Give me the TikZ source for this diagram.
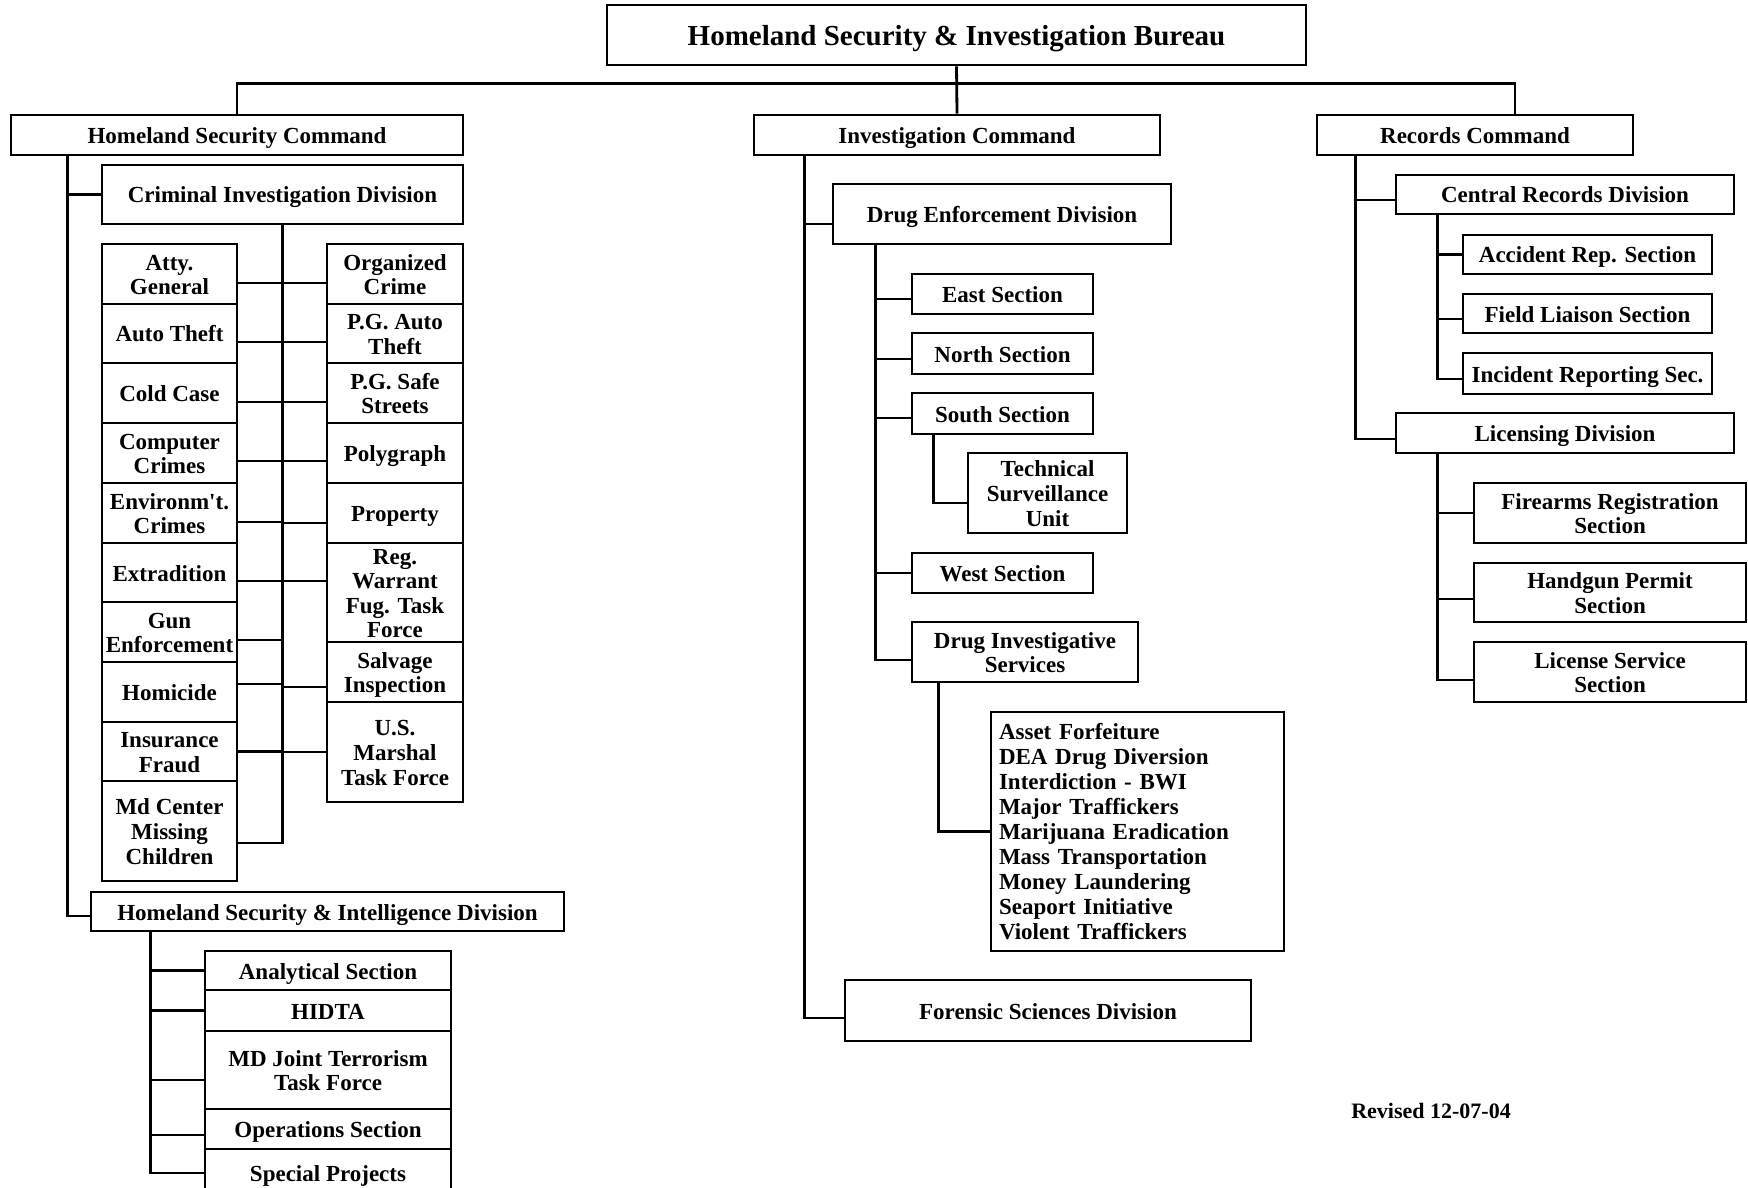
\documentclass[tikz,border=0pt]{standalone}
\usepackage{fontspec}
\setmainfont{Liberation Serif}
\usepackage{tikz}

\begin{document}
\begin{tikzpicture}[
    x=0.5pt, y=-0.5pt,
    frame/.style={draw, line width=1.4pt},
    box/.style={frame, inner xsep=1pt, inner ysep=0pt, align=center,
        font=\bfseries\fontsize{11.5}{12.3}\selectfont,
        text height=8.5pt, text depth=0pt},
    two/.style={text height=20.8pt},
    three/.style={text height=33.1pt},
    four/.style={text height=45.4pt},
    sz/.style 2 args={minimum width=#1pt, minimum height=#2pt},
    link/.style={line width=1.4pt},
]
\useasboundingbox (0,0) rectangle (1748,1187);

% Bureau and commands
\node[box, sz={349.5}{30}, font=\bfseries\fontsize{14.5}{16}\selectfont,
    text height=10.5pt] (top) at (956.5,35) {Homeland Security \& Investigation Bureau};
\node[box, sz={226}{20}] (hsc) at (237,135) {Homeland Security Command};
\node[box, sz={203}{20}] (ic) at (957,135) {Investigation Command};
\node[box, sz={158}{20}] (rc) at (1475,135) {Records Command};

\draw[link] (top.south) -- (ic.north);
\draw[link] (hsc.north) -- ++(0,-30) -| ([xshift=20pt]rc.north);

% Homeland Security Command
\node[box, sz={180.5}{29.5}] (cid) at (282.5,194.5) {Criminal Investigation Division};
\node[box, two, sz={67.5}{30}] (atty) at (169.5,274) {Atty.\\General};
\node[box, sz={67.5}{29.5}] (auto) at (169.5,333.5) {Auto Theft};
\node[box, sz={67.5}{30}] (cold) at (169.5,393) {Cold Case};
\node[box, two, sz={67.5}{30}] (comp) at (169.5,453) {Computer\\Crimes};
\node[box, two, sz={67.5}{30}] (env) at (169.5,513) {Environm\textquotesingle t.\\Crimes};
\node[box, sz={67.5}{29.5}] (extr) at (169.5,572.5) {Extradition};
\node[box, two, sz={67.5}{30}] (gun) at (169.5,632) {Gun\\Enforcement};
\node[box, sz={67.5}{30}] (homi) at (169.5,692) {Homicide};
\node[box, two, sz={67.5}{29.5}] (ins) at (169.5,751.5) {Insurance\\Fraud};
\node[box, three, sz={67.5}{50}] (mdc) at (169.5,831) {Md Center\\Missing\\Children};

\node[box, two, sz={68}{30}] (org) at (395,274) {Organized\\Crime};
\node[box, two, sz={68}{29.5}] (pgat) at (395,333.5) {P.G. Auto\\Theft};
\node[box, two, sz={68}{30}] (pgss) at (395,393) {P.G. Safe\\Streets};
\node[box, sz={68}{30}] (poly) at (395,453) {Polygraph};
\node[box, sz={68}{30}] (prop) at (395,513) {Property};
\node[box, four, sz={68}{49.5}] (reg) at (395,592.5) {Reg.\\Warrant\\Fug. Task\\Force};
\node[box, two, sz={68}{30}] (salv) at (395,672) {Salvage\\Inspection};
\node[box, three, sz={68}{50}] (usm) at (395,752) {U.S.\\Marshal\\Task Force};

\node[box, sz={236.5}{19.5}] (hsid) at (327.5,911.5) {Homeland Security \& Intelligence Division};
\node[box, sz={123}{19.5}] (anal) at (328,970.5) {Analytical Section};
\node[box, sz={123}{20.5}] (hidta) at (328,1010.5) {HIDTA};
\node[box, two, sz={123}{39}] (mdjt) at (328,1070) {MD Joint Terrorism\\Task Force};
\node[box, sz={123}{20}] (ops) at (328,1129) {Operations Section};
\node[box, sz={123}{24}] (spec) at (328,1173) {Special Projects};

\coordinate (hscdrop) at ([xshift=29pt]hsc.south west);
\draw[link] (cid.west) -| (hscdrop);
\draw[link] ([yshift=-2.25pt]hsid.west) -| (hscdrop);

\foreach \n/\off in {atty/-4.5, auto/-4.25, cold/-4.5, comp/-4, env/-4.5,
    extr/-4.25, gun/-4, homi/4, ins/0, mdc/-6}
  \draw[link] ([yshift=\off pt]\n.east) -| (cid.south);
\foreach \n/\off in {org/-4.5, pgat/-4.25, pgss/-4.5, poly/-4, prop/-5,
    reg/5.75, salv/-7.5, usm/0}
  \draw[link] ([yshift=\off pt]\n.west) -| (cid.south);

\coordinate (hsiddrop) at ([xshift=30.5pt]hsid.south west);
\foreach \n/\off in {anal/0, hidta/0, mdjt/-5, ops/-3, spec/0}
  \draw[link] ([yshift=\off pt]\n.west) -| (hsiddrop);

% Investigation Command
\node[box, sz={169}{30}] (ded) at (1002,214) {Drug Enforcement Division};
\node[box, sz={90.5}{20}] (east) at (1002.5,294) {East Section};
\node[box, sz={90.5}{20.5}] (north) at (1002.5,353.5) {North Section};
\node[box, sz={90.5}{20.5}] (south) at (1002.5,413.5) {South Section};
\node[box, three, sz={79.5}{40}] (tech) at (1047.5,493) {Technical\\Surveillance\\Unit};
\node[box, sz={90.5}{20}] (west) at (1002.5,573) {West Section};
\node[box, two, sz={113}{30}] (dis) at (1025,652) {Drug Investigative\\Services};
\node[frame, sz={146.5}{119.5}, text width=138.5pt, inner xsep=4pt, align=left,
    font=\bfseries\fontsize{11.5}{12.5}\selectfont] (list) at (1137.5,831.5)
    {Asset Forfeiture\\DEA Drug Diversion\\Interdiction - BWI\\Major Traffickers\\Marijuana Eradication\\Mass Transportation\\Money Laundering\\Seaport Initiative\\Violent Traffickers};
\node[box, sz={203}{30.5}] (fsd) at (1048,1010.5) {Forensic Sciences Division};

\coordinate (icdrop) at ([xshift=26pt]ic.south west);
\draw[link] ([yshift=-5pt]ded.west) -| (icdrop);
\draw[link] ([yshift=-3.75pt]fsd.west) -| (icdrop);

\coordinate (deddrop) at ([xshift=22pt]ded.south west);
\foreach \n/\off in {east/-2.5, north/-2.75, south/-2.25, west/0, dis/-4}
  \draw[link] ([yshift=\off pt]\n.west) -| (deddrop);
\draw[link] ([yshift=-5pt]tech.west) -| ([xshift=11.5pt]south.south west);
\draw[link] (list.west) -| ([xshift=14pt]dis.south west);

% Records Command
\node[box, sz={169}{19.5}] (crd) at (1565,194.5) {Central Records Division};
\node[box, sz={124.5}{19.5}] (acc) at (1587.5,254.5) {Accident Rep. Section};
\node[box, sz={124.5}{19.5}] (fld) at (1587.5,313.5) {Field Liaison Section};
\node[box, sz={124.5}{20.5}] (inc) at (1587.5,373.5) {Incident Reporting Sec.};
\node[box, sz={169}{20}] (lic) at (1565,433) {Licensing Division};
\node[box, two, sz={136}{30}] (fire) at (1610,513) {Firearms Registration\\Section};
\node[box, two, sz={136}{29.5}] (hand) at (1610,592.5) {Handgun Permit\\Section};
\node[box, two, sz={136}{30}] (lsv) at (1610,672) {License Service\\Section};

\coordinate (rcdrop) at ([xshift=20pt]rc.south west);
\draw[link] ([yshift=-2.75pt]crd.west) -| (rcdrop);
\draw[link] ([yshift=-3pt]lic.west) -| (rcdrop);

\coordinate (crddrop) at ([xshift=21.5pt]crd.south west);
\foreach \n/\off in {acc/0, fld/-2.75, inc/-2.75}
  \draw[link] ([yshift=\off pt]\n.west) -| (crddrop);

\coordinate (licdrop) at ([xshift=21.5pt]lic.south west);
\foreach \n/\off in {fire/0, hand/-3.25, lsv/-4}
  \draw[link] ([yshift=\off pt]\n.west) -| (licdrop);

\node[font=\bfseries\fontsize{11}{12}\selectfont] (rev) at (1431,1111) {Revised 12-07-04};

\end{tikzpicture}
\end{document}
